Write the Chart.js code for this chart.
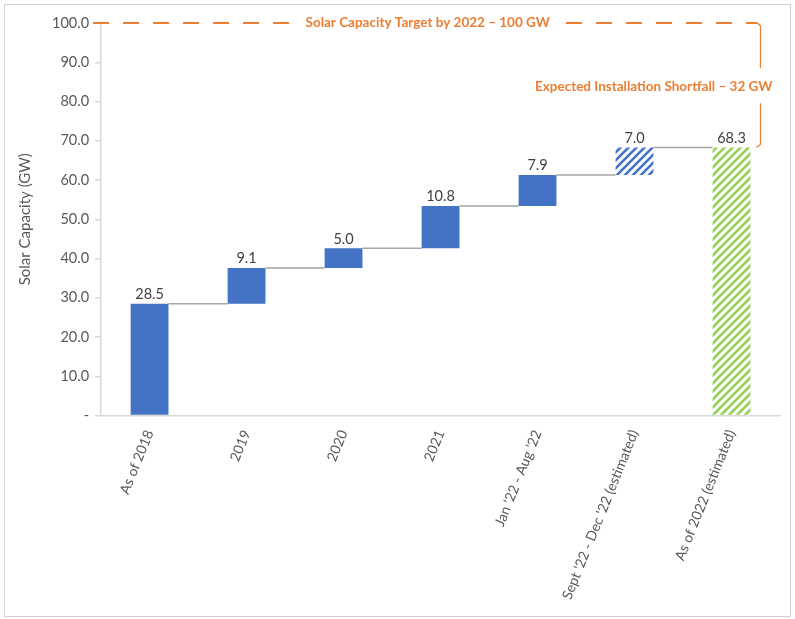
<!DOCTYPE html>
<html>
<head>
<meta charset="utf-8">
<script src="https://cdn.jsdelivr.net/npm/chart.js@4.4.0/dist/chart.umd.min.js"></script>
<style>
  body { margin: 0; background: #fff; }
  #wrap { position: relative; width: 795px; height: 619px; }
  #frame { position: absolute; left: 4px; top: 4px; width: 785px; height: 611px; border: 1px solid #d0d0d0; pointer-events: none; }
</style>
</head>
<body>
<div id="wrap">
  <canvas id="solarChart" width="795" height="619"></canvas>
  <div id="frame"></div>
</div>
<script>
const categories = ['As of 2018', '2019', '2020', '2021', "Jan '22 - Aug '22", "Sept '22 - Dec '22 (estimated)", 'As of 2022 (estimated)'];
const additions = [28.5, 9.1, 5.0, 10.8, 7.9, 7.0];
const total = 68.3;
const target = 100;
const shortfall = 32;
const targetText = 'Solar Capacity Target by 2022 \u2013 100 GW';
const shortfallText = 'Expected Installation Shortfall \u2013 ' + shortfall + ' GW';

const FONT = 'Lato, "Open Sans", sans-serif';
const orange = '#ED7D31';

// floating ranges for the waterfall
let running = 0;
const ranges = additions.map(v => {
  const r = [running, +(running + v).toFixed(1)];
  running = r[1];
  return r;
});
ranges.push([0, total]);
const labelsTxt = additions.map(v => v.toFixed(1)).concat([total.toFixed(1)]);

function stripes(color) {
  const c = document.createElement('canvas');
  c.width = 8; c.height = 8;
  const g = c.getContext('2d');
  g.strokeStyle = color;
  g.lineWidth = 2.6;
  g.beginPath();
  g.moveTo(-2, 10); g.lineTo(10, -2);
  g.moveTo(-2, 2); g.lineTo(2, -2);
  g.moveTo(6, 10); g.lineTo(10, 6);
  g.stroke();
  return g.createPattern(c, 'repeat');
}

const ctx = document.getElementById('solarChart').getContext('2d');
const blueHatch = stripes('#4472C4');
const greenHatch = stripes('#92D050');
const fills = ['#4472C4', '#4472C4', '#4472C4', '#4472C4', '#4472C4', blueHatch, greenHatch];

const waterfallExtras = {
  id: 'waterfallExtras',
  afterDatasetsDraw(chart) {
    const c = chart.ctx;
    const y = chart.scales.y;
    const area = chart.chartArea;
    const bars = chart.getDatasetMeta(0).data;

    // connectors
    c.save();
    c.strokeStyle = '#a5a5a5';
    c.lineWidth = 1.5;
    for (let i = 0; i < bars.length - 1; i++) {
      const lvl = y.getPixelForValue(ranges[i][1]);
      c.beginPath();
      c.moveTo(bars[i].x + bars[i].width / 2, lvl);
      c.lineTo(bars[i + 1].x - bars[i + 1].width / 2, lvl);
      c.stroke();
    }
    c.restore();

    // value labels
    c.save();
    c.fillStyle = '#404040';
    c.font = '14.5px ' + FONT;
    c.textAlign = 'center';
    c.textBaseline = 'bottom';
    bars.forEach((b, i) => {
      c.fillText(labelsTxt[i], b.x, y.getPixelForValue(ranges[i][1]) - 2);
    });
    c.restore();

    // target line + shortfall bracket
    const last = bars[bars.length - 1];
    const bx = last.x + last.width / 2 + 10;
    const yT = y.getPixelForValue(target);
    const yE = y.getPixelForValue(total);
    const yMid = y.getPixelForValue((target + total) / 2);

    c.save();
    c.font = 'bold 13.5px ' + FONT;
    c.fillStyle = orange;
    c.textAlign = 'center';
    c.textBaseline = 'middle';
    const tx = (area.left + bx) / 2 - 3;
    const tw = c.measureText(targetText).width;
    c.fillText(targetText, tx, yT);

    c.strokeStyle = orange;
    c.lineWidth = 2;
    c.setLineDash([16, 14]);
    c.beginPath();
    c.moveTo(area.left - 8, yT);
    c.lineTo(tx - tw / 2 - 14, yT);
    c.moveTo(tx + tw / 2 + 16, yT);
    c.lineTo(bx - 3, yT);
    c.stroke();

    c.setLineDash([]);
    c.lineWidth = 1.2;
    c.beginPath();
    c.moveTo(bx - 3, yT);
    c.lineTo(bx, yT + 3);
    c.lineTo(bx, yMid - 17);
    c.moveTo(bx, yMid + 18);
    c.lineTo(bx, yE - 3);
    c.lineTo(bx - 4, yE);
    c.stroke();

    c.textAlign = 'right';
    c.fillText(shortfallText, bx + 12, yMid + 1);
    c.restore();
  }
};

new Chart(ctx, {
  type: 'bar',
  data: {
    labels: categories,
    datasets: [{
      data: ranges,
      backgroundColor: fills,
      borderWidth: 0,
      barPercentage: 0.39,
      categoryPercentage: 1.0
    }]
  },
  options: {
    responsive: false,
    animation: false,
    layout: { padding: { top: 23, right: 15, left: 12, bottom: 13 } },
    plugins: {
      legend: { display: false },
      tooltip: { enabled: false }
    },
    scales: {
      x: {
        grid: { display: false },
        border: { display: true, color: '#d9d9d9', width: 1.5 },
        ticks: {
          color: '#595959',
          font: { family: FONT, size: 14 },
          minRotation: 68,
          maxRotation: 68,
          autoSkip: false,
          padding: 4
        }
      },
      y: {
        min: 0,
        max: 100,
        grid: { drawOnChartArea: false, drawTicks: true, tickLength: 6, color: '#d9d9d9', lineWidth: 1.5 },
        border: { display: true, color: '#d9d9d9', width: 1.5 },
        ticks: {
          stepSize: 10,
          color: '#595959',
          font: { family: FONT, size: 14.5 },
          padding: 6,
          callback: v => v === 0 ? '-' : v.toFixed(1)
        },
        title: {
          display: true,
          text: 'Solar Capacity (GW)',
          color: '#595959',
          font: { family: FONT, size: 15 },
          padding: { bottom: 12 }
        }
      }
    }
  },
  plugins: [waterfallExtras]
});
</script>
</body>
</html>
